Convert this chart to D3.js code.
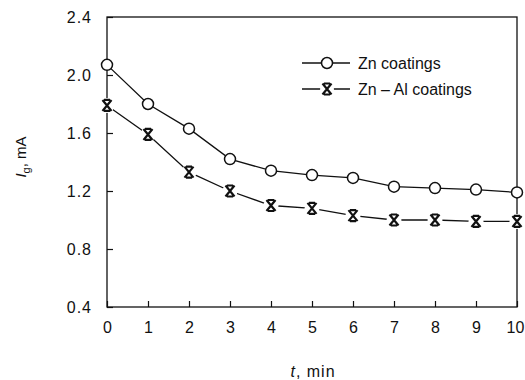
<!DOCTYPE html>
<html>
<head>
<meta charset="utf-8">
<script src="https://cdn.jsdelivr.net/npm/d3@7"></script>
<style>
  body { margin: 0; background: #fff; }
  text { font-family: "Liberation Sans", Arial, sans-serif; fill: #111; }
</style>
</head>
<body>
<svg id="chart" width="525" height="380"></svg>
<script>
var times = [0, 1, 2, 3, 4, 5, 6, 7, 8, 9, 10];
var znValues = [2.07, 1.80, 1.63, 1.42, 1.34, 1.31, 1.29, 1.23, 1.22, 1.21, 1.19];
var znAlValues = [1.79, 1.59, 1.33, 1.20, 1.10, 1.08, 1.03, 1.00, 1.00, 0.99, 0.99];
var yTicks = [0.4, 0.8, 1.2, 1.6, 2.0, 2.4];
var seriesNames = ['Zn coatings', 'Zn \u2013 Al coatings'];

var margin = { top: 17, right: 8, bottom: 73, left: 107 },
    width = 525 - margin.left - margin.right,
    height = 380 - margin.top - margin.bottom;

var svg = d3.select('#chart');
var g = svg.append('g').attr('transform', 'translate(' + margin.left + ',' + margin.top + ')');

var x = d3.scaleLinear().domain([0, 10]).range([0, width]);
var y = d3.scaleLinear().domain([0.4, 2.4]).range([height, 0]);

// frame
g.append('rect')
    .attr('width', width)
    .attr('height', height)
    .attr('fill', 'none')
    .attr('stroke', '#111')
    .attr('stroke-width', 1.3);

// axes, ticks point inward
var xAxis = g.append('g')
    .attr('transform', 'translate(0,' + height + ')')
    .call(d3.axisBottom(x).tickValues(times).tickSizeInner(-6).tickSizeOuter(0).tickPadding(15).tickFormat(d3.format('d')));
var yAxis = g.append('g')
    .call(d3.axisLeft(y).tickValues(yTicks).tickSizeInner(-6).tickSizeOuter(0).tickPadding(15).tickFormat(d3.format('.1f')));
[xAxis, yAxis].forEach(function (a) {
    a.select('.domain').remove();
    a.selectAll('line').attr('stroke', '#111').attr('stroke-width', 1.2);
    a.selectAll('text')
        .attr('font-size', null)
        .style('font-size', '16px')
        .attr('fill', '#111');
});
yAxis.selectAll('text').style('letter-spacing', '1px');
// last label sits on the right edge, nudge it in
xAxis.selectAll('text').filter(function (d) { return d === 10; }).attr('dx', '-2px');

var line = d3.line()
    .x(function (d, i) { return x(times[i]); })
    .y(function (d) { return y(d); });

var crossPath = 'M-3,-5.5H3M-3,5.5H3M-4.5,-5.5L4.5,5.5M4.5,-5.5L-4.5,5.5';

function drawSeries(values, kind) {
    g.append('path')
        .attr('d', line(values))
        .attr('fill', 'none')
        .attr('stroke', '#111')
        .attr('stroke-width', 1.3);
    var pts = g.append('g').selectAll('g')
        .data(values)
        .enter()
        .append('g')
        .attr('transform', function (d, i) { return 'translate(' + x(times[i]) + ',' + y(d) + ')'; });
    if (kind === 'circle') {
        pts.append('circle').attr('r', 5.5).attr('fill', '#fff').attr('stroke', '#111').attr('stroke-width', 1.5);
    } else {
        pts.append('circle').attr('r', 7.5).attr('fill', '#fff');
        pts.append('path').attr('d', crossPath).attr('stroke', '#111').attr('stroke-width', 2.2).attr('fill', 'none');
    }
}

drawSeries(znValues, 'circle');
drawSeries(znAlValues, 'cross');

// legend
var legend = svg.append('g').attr('transform', 'translate(302,63)');
[0, 1].forEach(function (i) {
    var row = legend.append('g').attr('transform', 'translate(0,' + i * 26 + ')');
    row.append('line').attr('x1', 0).attr('x2', 48).attr('stroke', '#111').attr('stroke-width', 1.3);
    if (i === 0) {
        row.append('circle').attr('cx', 25).attr('r', 5.5).attr('fill', '#fff').attr('stroke', '#111').attr('stroke-width', 1.5);
    } else {
        row.append('circle').attr('cx', 25).attr('r', 7).attr('fill', '#fff');
        row.append('path').attr('transform', 'translate(25,0)').attr('d', crossPath)
            .attr('stroke', '#111').attr('stroke-width', 2.2).attr('fill', 'none');
    }
    row.append('text').attr('x', 56).attr('y', 6)
        .style('font-size', '16px')
        .text(seriesNames[i]);
});

// axis titles
svg.append('text')
    .attr('x', 313).attr('y', 377)
    .attr('text-anchor', 'middle')
    .style('font-size', '16px')
    .style('letter-spacing', '1px')
    .html('<tspan font-style="italic">t</tspan>, min');

svg.append('text')
    .attr('transform', 'translate(26,157) rotate(-90)')
    .attr('text-anchor', 'middle')
    .style('font-size', '15px')
    .html('<tspan font-style="italic">I</tspan><tspan font-size="11px" dy="4">g</tspan><tspan dy="-4">, mA</tspan>');
</script>
</body>
</html>
